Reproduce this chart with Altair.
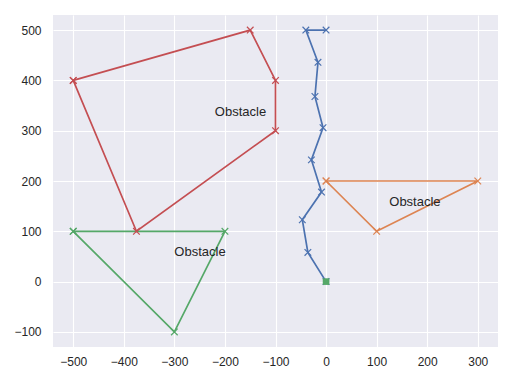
import altair as alt
import pandas as pd

# Robot path (blue)
path_x = [0, -36, -47, -9, -29, -6, -22, -16, -40, 0]
path_y = [0, 58, 123, 178, 242, 306, 368, 436, 500, 500]

# Obstacles (closed polygons)
orange_x = [0, 300, 100, 0]
orange_y = [200, 200, 100, 200]
green_x = [-500, -200, -300, -500]
green_y = [100, 100, -100, 100]
red_x = [-500, -150, -100, -100, -375, -500]
red_y = [400, 500, 400, 300, 100, 400]

# Start marker
start_x = [0]
start_y = [0]

# Labels
label_text = ["Obstacle", "Obstacle", "Obstacle"]
label_x = [-220, 125, -300]
label_y = [330, 150, 50]

x_ticks = [-500, -400, -300, -200, -100, 0, 100, 200, 300]
y_ticks = [-100, 0, 100, 200, 300, 400, 500]

series = [("path", path_x, path_y), ("orange", orange_x, orange_y),
          ("green", green_x, green_y), ("red", red_x, red_y)]
rows = []
for name, xs, ys in series:
    for i, (a, b) in enumerate(zip(xs, ys)):
        rows.append({"s": name, "i": i, "x": a, "y": b})
df = pd.DataFrame(rows)

start_df = pd.DataFrame({"x": start_x, "y": start_y})
lab_df = pd.DataFrame({"t": label_text, "x": label_x, "y": label_y})

xs = alt.Scale(domain=[-540, 340], nice=False, zero=False)
ys = alt.Scale(domain=[-130, 530], nice=False, zero=False)
cs = alt.Scale(domain=["path", "orange", "green", "red"],
               range=["#4C72B0", "#DD8452", "#55A868", "#C44E52"])

X = alt.X("x:Q", scale=xs, axis=alt.Axis(values=x_ticks, title=None))
Y = alt.Y("y:Q", scale=ys, axis=alt.Axis(values=y_ticks, title=None))

lines = alt.Chart(df).mark_line(strokeWidth=1.7).encode(
    x=X, y=Y, color=alt.Color("s:N", scale=cs, legend=None),
    detail="s:N", order="i:Q")

xshape = "M-1,-1L1,1M-1,1L1,-1"
pts = alt.Chart(df).mark_point(shape=xshape, size=44, strokeWidth=1.2, filled=False, opacity=1).encode(
    x=X, y=Y, color=alt.Color("s:N", scale=cs, legend=None))

start = alt.Chart(start_df).mark_square(size=44, color="#55A868", opacity=1).encode(x=X, y=Y)

labels = alt.Chart(lab_df).mark_text(align="left", baseline="alphabetic", fontSize=13,
                                     font="Liberation Sans", color="#262626").encode(
    x=X, y=Y, text="t:N")

chart = alt.layer(lines, pts, start, labels).properties(
    width=445, height=332,
    autosize=alt.AutoSizeParams(type="none"),
    padding={"left": 45, "top": 7, "right": 6, "bottom": 30},
).configure_view(fill="#EAEAF2", stroke=None).configure_axis(
    grid=True, gridColor="white", gridWidth=1.1, domain=False, ticks=False, tickSize=0,
    labelFont="Liberation Sans", labelFontSize=12, labelColor="#262626",
).configure_axisX(labelPadding=9).configure_axisY(labelPadding=12)

chart.save("out.html", embed_options={"renderer": "svg", "actions": False})
